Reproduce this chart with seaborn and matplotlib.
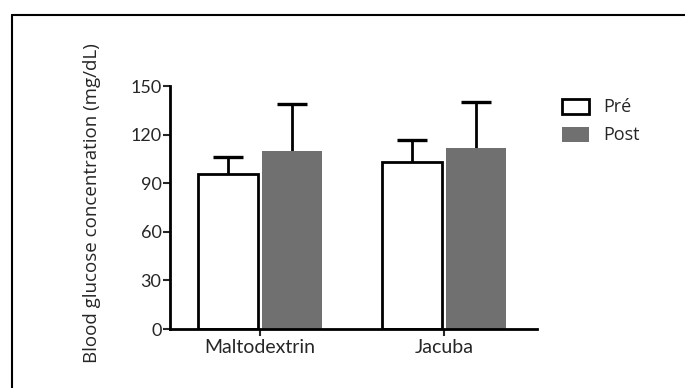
import matplotlib
matplotlib.use("Agg")
import matplotlib.pyplot as plt
import seaborn as sns
import pandas as pd
import numpy as np
from matplotlib.lines import Line2D

# values
groups = ["Maltodextrin", "Jacuba"]
phases = ["Pré", "Post"]
pre_mean = [96, 103]
post_mean = [110, 112]
pre_err = [10, 14]
post_err = [29, 28]
y_ticks = [0, 30, 60, 90, 120, 150]

df = pd.DataFrame({
    "group": groups * 2,
    "phase": [phases[0]] * 2 + [phases[1]] * 2,
    "value": pre_mean + post_mean,
    "err": pre_err + post_err,
})

sns.set_style("white")
narrow = ["Lato", "DejaVu Sans"]
plt.rcParams["font.family"] = ["Open Sans", "DejaVu Sans"]

fig = plt.figure(figsize=(6.85, 3.88), dpi=100)
ax = fig.add_axes([0.248, 0.152, 0.536, 0.626])

sns.barplot(data=df, x="group", y="value", hue="phase", order=groups,
            hue_order=phases, palette={"Pré": "white", "Post": "#707070"},
            width=0.7, gap=0.07, errorbar=None, ax=ax, legend=False)

# style bars and add upper-only error bars
for container, ph in zip(ax.containers, phases):
    sub = df[df["phase"] == ph].set_index("group").loc[groups]
    for patch in container:
        patch.set_zorder(2)
        if ph == "Pré":
            patch.set_edgecolor("black")
            patch.set_linewidth(2)
        else:
            patch.set_edgecolor("none")
    xs = [p.get_x() + p.get_width() / 2 for p in container]
    eb = ax.errorbar(xs, sub["value"], yerr=[np.zeros(len(xs)), sub["err"]],
                     fmt="none", ecolor="black", elinewidth=2, capsize=11,
                     capthick=2.4, zorder=1)
    eb[1][0].set_visible(False)  # drop the cap at the bar top

ax.set_xlim(-0.489, 1.505)
ax.set_ylim(0, 150)
ax.set_yticks(y_ticks)
ax.set_yticklabels([str(t) for t in y_ticks], family=narrow, fontsize=13)
ax.set_xticks(range(len(groups)))
ax.set_xticklabels(groups, family=narrow, fontsize=14)
ax.set_xlabel("")
ax.set_ylabel("")
fig.text(0.134, 0.477, "Blood glucose concentration (mg/dL)", rotation=90,
         ha="center", va="center", fontsize=13.5)

for s in ["top", "right"]:
    ax.spines[s].set_visible(False)
for s in ["left", "bottom"]:
    ax.spines[s].set_linewidth(2)
    ax.spines[s].set_color("black")
ax.tick_params(axis="y", direction="out", length=5, width=1.5, pad=1, left=True)
ax.tick_params(axis="x", direction="out", length=5, width=1.5, pad=2, bottom=True)

handles = [plt.Rectangle((0, 0), 1, 1, facecolor="white", edgecolor="black", linewidth=2),
           plt.Rectangle((0, 0), 1, 1, facecolor="#707070", edgecolor="none")]
fig.legend(handles, phases, loc="upper left", bbox_to_anchor=(0.81, 0.765),
           frameon=False, fontsize=13, handlelength=1.5, handleheight=0.9,
           labelspacing=0.55, handletextpad=0.8, borderaxespad=0)

# outer frame (top and left edges only)
fig.add_artist(Line2D([12 / 685, 1], [1 - 14.7 / 388] * 2, color="black",
                      linewidth=1.5, transform=fig.transFigure))
fig.add_artist(Line2D([12 / 685] * 2, [0, 1 - 14.7 / 388], color="black",
                      linewidth=1.5, transform=fig.transFigure))

fig.savefig("out.png", dpi=100)
